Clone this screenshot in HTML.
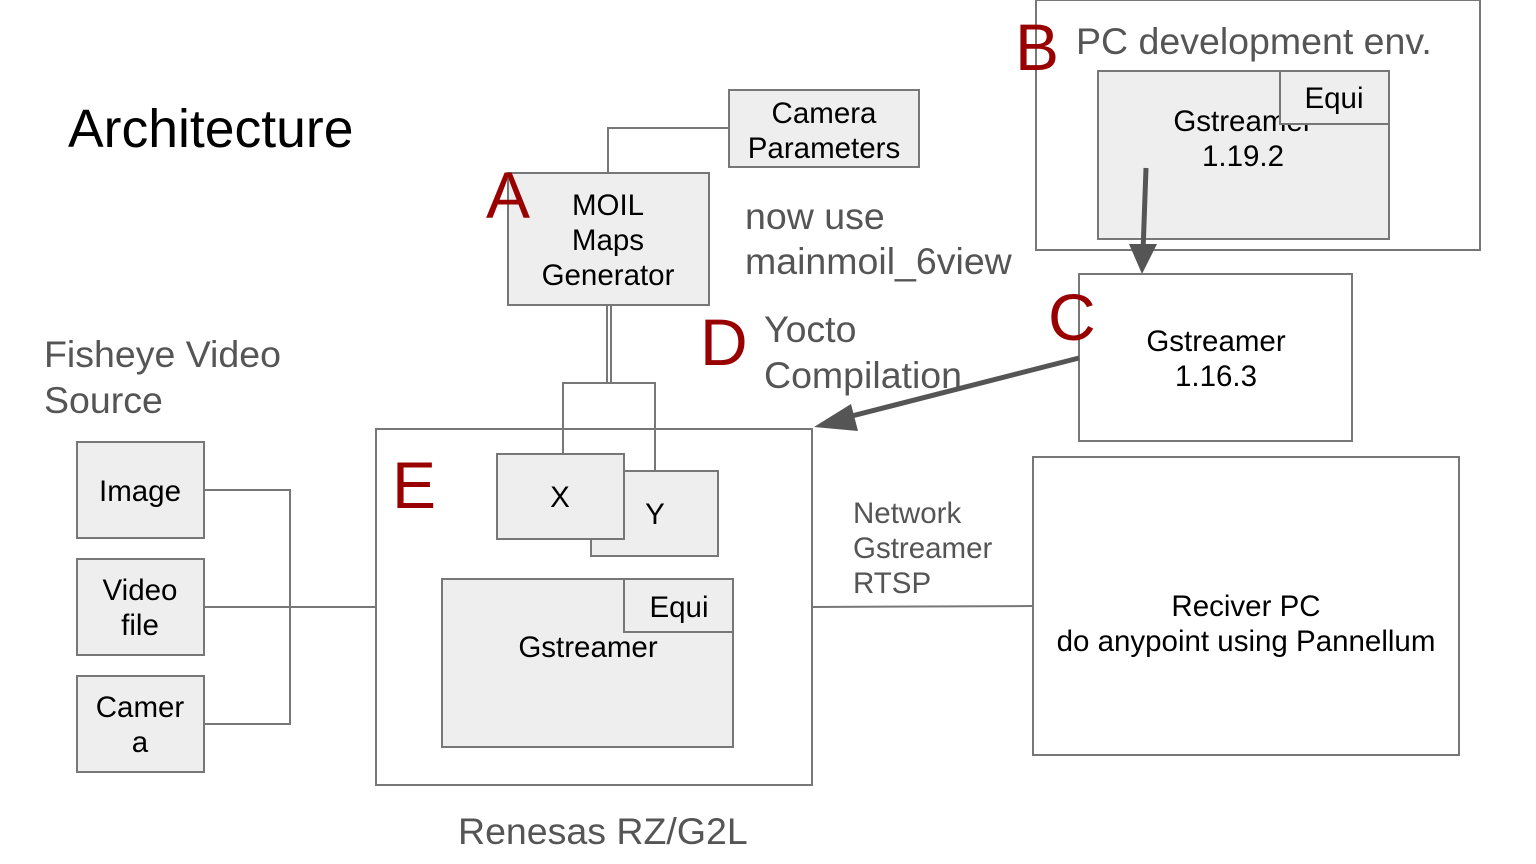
<!DOCTYPE html>
<html><head><style>
html,body{margin:0;padding:0;background:#fff;}
svg{display:block;font-family:"Liberation Sans",Arial,sans-serif;}
</style></head><body>
<svg width="1536" height="864" viewBox="0 0 1536 864">
<g stroke="#777" stroke-width="2" fill="none">
<rect x="1036" y="0" width="444" height="250" fill="#fff"/>
<rect x="1098" y="71" width="291" height="168" fill="#eee"/>
<rect x="1079" y="274" width="273" height="167" fill="#fff"/>
<rect x="1033" y="457" width="426" height="298" fill="#fff"/>
<rect x="729" y="90" width="190" height="77" fill="#eee"/>
<polyline points="728,128 608,128 608,173"/>
<rect x="508" y="173" width="201" height="132" fill="#eee"/>
<line x1="607" y1="305" x2="607" y2="383"/>
<line x1="611" y1="305" x2="611" y2="383"/>
<rect x="376" y="429" width="436" height="356" fill="#fff"/>
<polyline points="563,454 563,383 655,383 655,471"/>
<rect x="591" y="471" width="127" height="85" fill="#eee"/>
<rect x="497" y="454" width="127" height="85" fill="#eee"/>
<rect x="442" y="579" width="291" height="168" fill="#eee"/>
<rect x="624" y="579" width="109" height="53" fill="#eee"/>
<rect x="77" y="442" width="127" height="96" fill="#eee"/>
<rect x="77" y="559" width="127" height="96" fill="#eee"/>
<rect x="77" y="676" width="127" height="96" fill="#eee"/>
<polyline points="204,490 290,490 290,724 204,724"/>
<line x1="204" y1="607" x2="376" y2="607"/>
<line x1="812" y1="607" x2="1033" y2="606"/>
</g>
<line x1="1146" y1="168" x2="1143" y2="252" stroke="#555" stroke-width="5"/>
<path d="M1129,244 L1157,244 L1142,274 z" fill="#555"/>
<line x1="1079" y1="358" x2="840" y2="419" stroke="#555" stroke-width="5"/>
<path d="M814,427 L851,404 L858,431 z" fill="#555"/>
<g fill="#000" font-size="29.5" text-anchor="middle">
<text x="824" y="123">Camera</text>
<text x="824" y="158">Parameters</text>
<text x="608" y="215">MOIL</text>
<text x="608" y="250">Maps</text>
<text x="608" y="285">Generator</text>
<text x="560" y="507">X</text>
<text x="655" y="524">Y</text>
<text x="679" y="617">Equi</text>
<text x="588" y="657">Gstreamer</text>
<text x="140" y="501">Image</text>
<text x="140" y="600">Video</text>
<text x="140" y="635">file</text>
<text x="140" y="717">Camer</text>
<text x="140" y="752">a</text>
<text x="1216" y="351">Gstreamer</text>
<text x="1216" y="386">1.16.3</text>
<text x="1246" y="616">Reciver PC</text>
<text x="1246" y="651">do anypoint using Pannellum</text>
<text x="1243" y="131">Gstreamer</text>
<text x="1243" y="166">1.19.2</text>
</g>
<rect x="1280" y="71" width="109" height="53" fill="#eee" stroke="#777" stroke-width="2"/>
<text x="1334" y="108" font-size="29.5" text-anchor="middle">Equi</text>
<text x="68" y="147" font-size="53.5" fill="#000">Architecture</text>
<g fill="#555" font-size="37.5">
<text x="745" y="229">now use</text>
<text x="745" y="274">mainmoil_6view</text>
<text x="764" y="342">Yocto</text>
<text x="764" y="388">Compilation</text>
<text x="44" y="367">Fisheye Video</text>
<text x="44" y="413">Source</text>
<text x="458" y="844">Renesas RZ/G2L</text>
<text x="1076" y="54">PC development env.</text>
</g>
<g fill="#555" font-size="29.5">
<text x="853" y="523">Network</text>
<text x="853" y="558">Gstreamer</text>
<text x="853" y="593">RTSP</text>
</g>
<g fill="#990000" font-size="66">
<text x="486" y="218">A</text>
<text x="1015" y="70">B</text>
<text x="1048" y="340">C</text>
<text x="700" y="365">D</text>
<text x="392" y="508">E</text>
</g>
</svg>
</body></html>
